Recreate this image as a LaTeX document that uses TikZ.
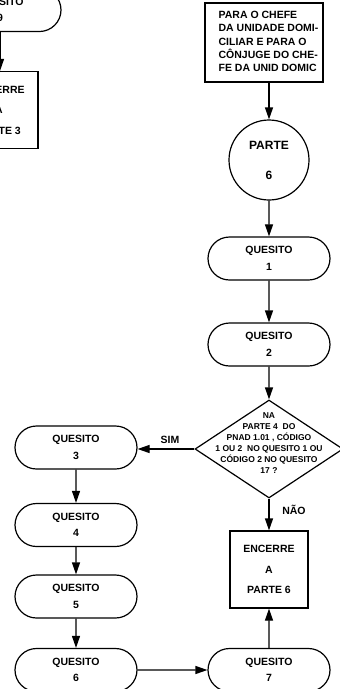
\documentclass[tikz,border=0pt]{standalone}
\usepackage{fontspec}
\setmainfont{Liberation Sans}
\usetikzlibrary{shapes.misc,shapes.geometric,arrows.meta}
\begin{document}
\begin{tikzpicture}[x=1pt,y=-1pt,line width=1.2pt,
  quesito/.style={draw,rounded rectangle,minimum width=122pt,minimum height=43pt,
    inner sep=0pt,align=center,font=\fontsize{10.5}{16.5}\selectfont\bfseries},
  endbox/.style={draw,rectangle,minimum width=78pt,minimum height=77pt,inner sep=0pt,
    align=center,font=\fontsize{10.5}{20.5}\selectfont\bfseries},
  infobox/.style={draw,rectangle,minimum width=118pt,minimum height=79pt,inner sep=0pt,
    font=\fontsize{10.5}{13.2}\selectfont\bfseries},
  partcircle/.style={draw,circle,minimum size=80pt,inner sep=0pt,align=center,
    font=\fontsize{12}{30}\selectfont\bfseries},
  decision/.style={draw,diamond,minimum width=148pt,minimum height=98pt,inner sep=0pt},
  dtext/.style={align=center,inner sep=0pt,font=\fontsize{8.5}{11}\selectfont\bfseries},
  lbl/.style={inner sep=0pt,font=\fontsize{10.5}{12}\selectfont\bfseries},
  arr/.style={-{Triangle[length=12pt,width=8pt]}}]
\useasboundingbox (0,0) rectangle (340,689);
\clip (0,0) rectangle (340,689);

% partial column on the left edge
\node[quesito] (q0) at (0,10) {QUESITO\\9};
\node[endbox] (e3) at (-1,110) {ENCERRE\\A\\PARTE 3};

% main column
\node[infobox] (info) at (264,42.5) {\hspace*{9pt}\begin{tabular}{@{}l@{}}PARA O CHEFE\\DA UNIDADE DOMI-\\CILIAR E PARA O\\CÔNJUGE DO CHE-\\FE DA UNID DOMIC\end{tabular}};
\node[partcircle] (p6) at (269,160) {PARTE\\6};
\node[quesito] (q1) at (269,258.5) {QUESITO\\1};
\node[quesito] (q2) at (269,344.5) {QUESITO\\2};
\node[decision] (d) at (269,449) {};
\node[dtext] (dt) at (269,443) {NA\\PARTE 4 \ DO\\PNAD 1.01 , CÓDIGO\\1 OU 2 \ NO QUESITO 1 OU\\CÓDIGO 2 NO QUESITO\\17 ?};
\node[quesito] (q3) at (76,447.5) {QUESITO\\3};
\node[quesito] (q4) at (76,525) {QUESITO\\4};
\node[quesito] (q5) at (76,596.5) {QUESITO\\5};
\node[quesito] (q6) at (76,670) {QUESITO\\6};
\node[endbox] (e6) at (269,569.5) {ENCERRE\\A\\PARTE 6};
\node[quesito] (q7) at (269,670) {QUESITO\\7};
\node[lbl] (sim) at (170,440) {SIM};
\node[lbl] (nao) at (294,510) {NÃO};

% connectors
\draw[arr] (q0.south) -- (q0.south |- e3.north);
\draw[arr] (info.south -| p6.north) -- (p6.north);
\draw[arr] (p6) -- (q1);
\draw[arr] (q1) -- (q2);
\draw[arr] (q2) -- (d.north);
\draw[arr] (d.west) -- (d.west -| q3.east);
\draw[arr] (d.south) -- (e6.north);
\draw[arr] (q3) -- (q4);
\draw[arr] (q4) -- (q5);
\draw[arr] (q5) -- (q6);
\draw[arr] (q6) -- (q7);
\draw[arr] (q7) -- (e6);
\end{tikzpicture}
\end{document}
